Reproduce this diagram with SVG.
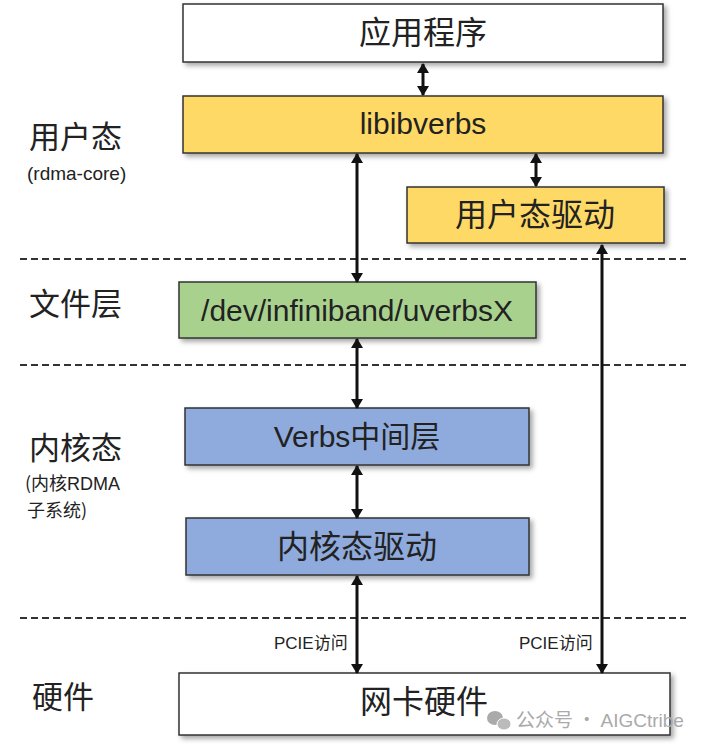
<svg xmlns="http://www.w3.org/2000/svg" width="707" height="748" viewBox="0 0 707 748">
<style>
.box{stroke:#333;stroke-width:1.5}
.cjk{font-family:"Noto Sans CJK SC","Liberation Sans",sans-serif;fill:#222}
.lat{font-family:"Liberation Sans","Noto Sans CJK SC",sans-serif;fill:#222}
.lbl{font-size:17px}
.conn line{stroke:#111;stroke-width:3}
.dash{stroke:#333;stroke-width:2;stroke-dasharray:7 4}
</style>
<defs>
<filter id="sh" x="-5%" y="-20%" width="112%" height="150%">
<feDropShadow dx="3" dy="3" stdDeviation="2.5" flood-color="#000" flood-opacity="0.35"/>
</filter>
<marker id="ah" viewBox="0 0 10 12" refX="9" refY="6" markerWidth="11" markerHeight="12" markerUnits="userSpaceOnUse" orient="auto-start-reverse">
<path d="M0,0 L10,6 L0,12 Z" fill="#111"/>
</marker>
</defs>
<rect width="707" height="748" fill="#fff"/>

<g id="separators">
<line class="dash" x1="20" y1="259" x2="686" y2="259"/>
<line class="dash" x1="20" y1="365" x2="686" y2="365"/>
<line class="dash" x1="20" y1="618" x2="686" y2="618"/>
</g>

<g id="layer-labels">
<text class="cjk" x="29" y="148" font-size="31">用户态</text>
<text class="lat" x="27" y="180" font-size="19">(rdma-core)</text>
<text class="cjk" x="29" y="315" font-size="31">文件层</text>
<text class="cjk" x="29" y="459" font-size="31">内核态</text>
<text class="cjk" x="25" y="490" font-size="18">(内核<tspan class="lat">RDMA</tspan></text>
<text class="cjk" x="27" y="517" font-size="18">子系统)</text>
<text class="cjk" x="32" y="708" font-size="31">硬件</text>
</g>

<g id="app">
<rect class="box" x="183" y="4" width="480" height="58" fill="#fff" filter="url(#sh)"/>
<text class="cjk" x="423" y="44" font-size="32" text-anchor="middle">应用程序</text>
</g>
<g id="libibverbs">
<rect class="box" x="183" y="96" width="480" height="57" fill="#FFD966" filter="url(#sh)"/>
<text class="lat" x="423" y="134" font-size="30" text-anchor="middle">libibverbs</text>
</g>
<g id="user-driver">
<rect class="box" x="407" y="187" width="257" height="56" fill="#FFD966" filter="url(#sh)"/>
<text class="cjk" x="535" y="226" font-size="32" text-anchor="middle">用户态驱动</text>
</g>
<g id="uverbs">
<rect class="box" x="179" y="282" width="357" height="56" fill="#A9D18E" filter="url(#sh)"/>
<text class="lat" x="357" y="321" font-size="30" text-anchor="middle">/dev/infiniband/uverbsX</text>
</g>
<g id="verbs-mid">
<rect class="box" x="185" y="408" width="344" height="57" fill="#8FAADC" filter="url(#sh)"/>
<text class="cjk" x="357" y="447" font-size="30" text-anchor="middle"><tspan class="lat">Verbs</tspan>中间层</text>
</g>
<g id="kernel-driver">
<rect class="box" x="186" y="518" width="343" height="57" fill="#8FAADC" filter="url(#sh)"/>
<text class="cjk" x="357" y="558" font-size="32" text-anchor="middle">内核态驱动</text>
</g>
<g id="nic">
<rect class="box" x="179" y="673" width="491" height="62" fill="#fff" filter="url(#sh)"/>
<text class="cjk" x="424" y="713" font-size="32" text-anchor="middle">网卡硬件</text>
</g>

<g id="connectors" class="conn">
<line x1="423" y1="64" x2="423" y2="95" marker-start="url(#ah)" marker-end="url(#ah)"/>
<line x1="357" y1="154" x2="357" y2="282" marker-start="url(#ah)" marker-end="url(#ah)"/>
<line x1="536" y1="154" x2="536" y2="186" marker-start="url(#ah)" marker-end="url(#ah)"/>
<line x1="602" y1="245" x2="602" y2="673" marker-start="url(#ah)" marker-end="url(#ah)"/>
<line x1="357" y1="339" x2="357" y2="408" marker-start="url(#ah)" marker-end="url(#ah)"/>
<line x1="357" y1="466" x2="357" y2="518" marker-start="url(#ah)" marker-end="url(#ah)"/>
<line x1="357" y1="576" x2="357" y2="673" marker-start="url(#ah)" marker-end="url(#ah)"/>
</g>
<g id="connector-labels">
<text class="cjk lbl" x="274" y="649"><tspan class="lat">PCIE</tspan>访问</text>
<text class="cjk lbl" x="519" y="649"><tspan class="lat">PCIE</tspan>访问</text>
</g>

<g id="watermark">
<ellipse cx="495" cy="718" rx="8" ry="7" fill="#aaa"/>
<ellipse cx="504" cy="724" rx="7" ry="6" fill="#bbb" stroke="#fff" stroke-width="1"/>
<text x="516" y="727" font-size="19" fill="#aaa" font-family="Noto Sans CJK SC, sans-serif">公众号 · <tspan font-family="Liberation Sans, sans-serif">AIGCtribe</tspan></text>
</g>
</svg>
